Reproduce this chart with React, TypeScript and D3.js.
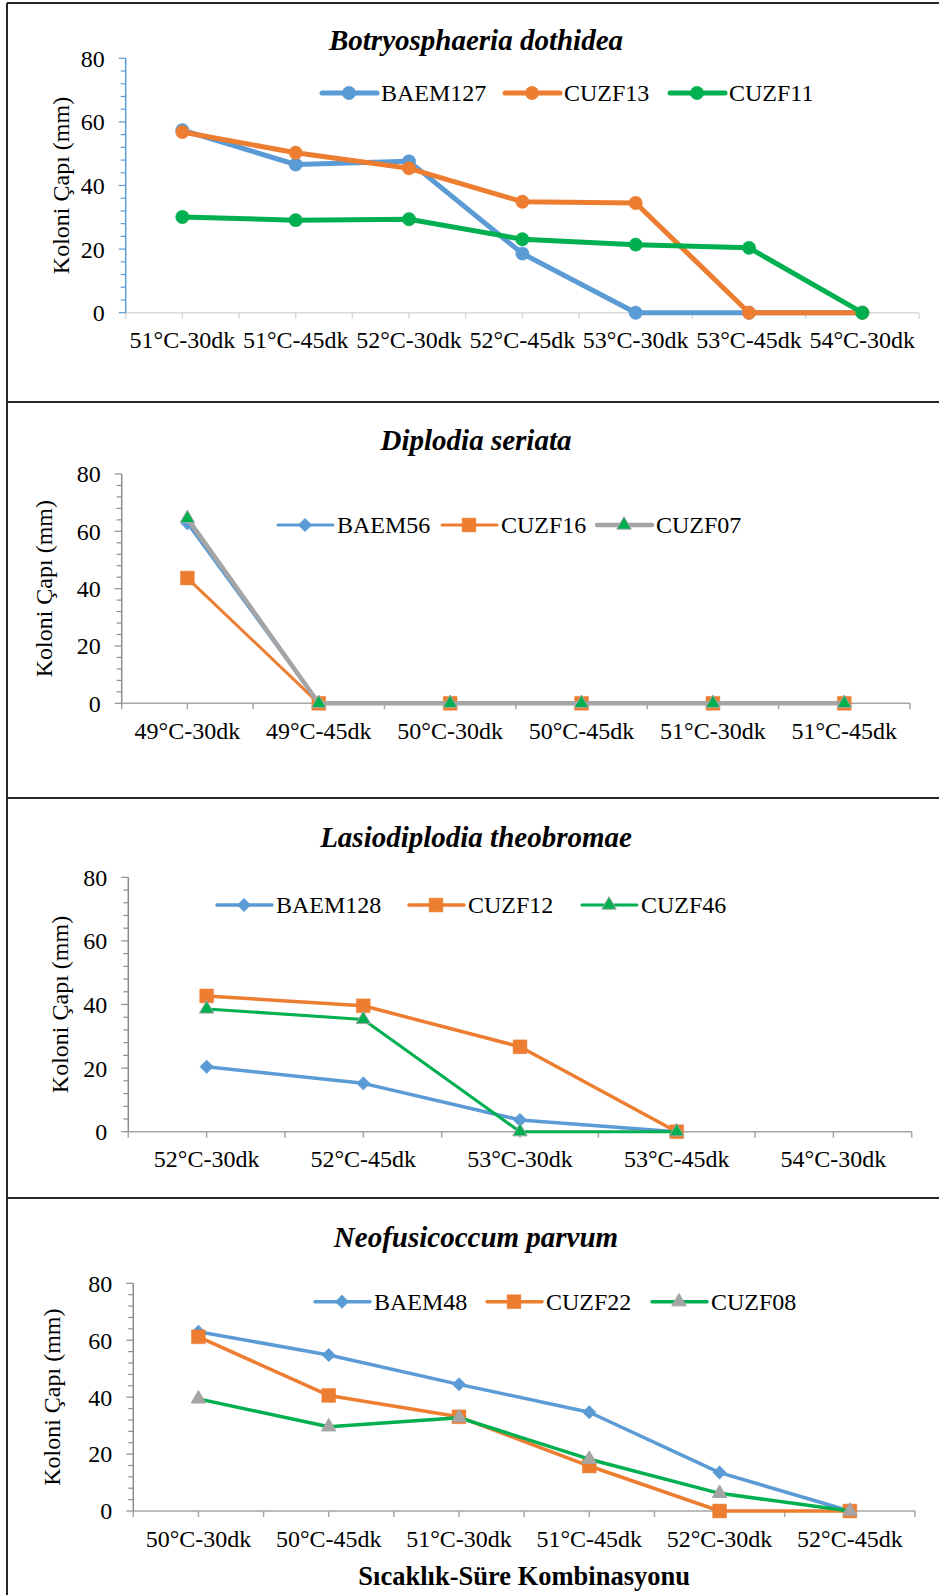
import React, { useEffect, useRef } from "react";
import * as d3 from "d3";

// ---- data ----
const catsBotryo = ["51°C-30dk", "51°C-45dk", "52°C-30dk", "52°C-45dk", "53°C-30dk", "53°C-45dk", "54°C-30dk"];
const baem127 = [57.4, 46.6, 47.6, 18.6, 0, 0, 0];
const cuzf13 = [56.8, 50.3, 45.4, 34.9, 34.5, 0, 0];
const cuzf11 = [30.1, 29.1, 29.4, 23.1, 21.4, 20.4, 0];

const catsDiplodia = ["49°C-30dk", "49°C-45dk", "50°C-30dk", "50°C-45dk", "51°C-30dk", "51°C-45dk"];
const baem56 = [62.8, 0, 0, 0, 0, 0];
const cuzf16 = [43.7, 0, 0, 0, 0, 0];
const cuzf07 = [64.5, 0, 0, 0, 0, 0];

const catsLasio = ["52°C-30dk", "52°C-45dk", "53°C-30dk", "53°C-45dk", "54°C-30dk"];
const baem128 = [20.4, 15.2, 3.7, 0, null];
const cuzf12 = [42.7, 39.6, 26.7, 0, null];
const cuzf46 = [38.6, 35.3, 0, 0, null];

const catsNeo = ["50°C-30dk", "50°C-45dk", "51°C-30dk", "51°C-45dk", "52°C-30dk", "52°C-45dk"];
const baem48 = [63.0, 54.8, 44.5, 34.7, 13.5, 0];
const cuzf22 = [61.2, 40.6, 33.1, 15.8, 0, 0];
const cuzf08 = [39.4, 29.6, 32.8, 18.2, 6.2, 0];

const yTicks = [0, 20, 40, 60, 80];
const yLabel = "Koloni Çapı (mm)";
const xTitle = "Sıcaklık-Süre Kombinasyonu";

const BLUE = "#5b9bd5";
const ORANGE = "#ed7d31";
const GREEN = "#00b050";
const GRAY = "#a5a5a5";
const FONT = '"Liberation Serif", "Times New Roman", serif';

const panels = [
  {
    title: "Botryosphaeria dothidea",
    cats: catsBotryo,
    series: [
      { name: "BAEM127", values: baem127, color: BLUE, marker: "circle", fill: BLUE, stroke: BLUE, width: 5 },
      { name: "CUZF13", values: cuzf13, color: ORANGE, marker: "circle", fill: ORANGE, stroke: ORANGE, width: 5 },
      { name: "CUZF11", values: cuzf11, color: GREEN, marker: "circle", fill: GREEN, stroke: GREEN, width: 5 },
    ],
    left: 125.7, right: 919, top: 58.3, bottom: 312.7,
    titleY: 50, legendY: 93, legendX: [322, 505, 670],
    labelY: 348, yLabelX: 69, yAxisColor: BLUE, xAxisColor: "#d9d9d9",
  },
  {
    title: "Diplodia seriata",
    cats: catsDiplodia,
    series: [
      { name: "BAEM56", values: baem56, color: BLUE, marker: "diamond", fill: BLUE, stroke: BLUE, width: 3 },
      { name: "CUZF16", values: cuzf16, color: ORANGE, marker: "square", fill: ORANGE, stroke: ORANGE, width: 3 },
      { name: "CUZF07", values: cuzf07, color: GRAY, marker: "triangle", fill: GREEN, stroke: GRAY, width: 4.5 },
    ],
    left: 121.7, right: 910, top: 474, bottom: 703.3,
    titleY: 450, legendY: 525, legendX: [278, 442, 597],
    labelY: 739, yLabelX: 52, yAxisColor: "#8c8c8c", xAxisColor: "#a6a6a6",
  },
  {
    title: "Lasiodiplodia theobromae",
    cats: catsLasio,
    series: [
      { name: "BAEM128", values: baem128, color: BLUE, marker: "diamond", fill: BLUE, stroke: BLUE, width: 3.5 },
      { name: "CUZF12", values: cuzf12, color: ORANGE, marker: "square", fill: ORANGE, stroke: ORANGE, width: 3.5 },
      { name: "CUZF46", values: cuzf46, color: GREEN, marker: "triangle", fill: GREEN, stroke: GRAY, width: 3 },
    ],
    left: 128.3, right: 911.7, top: 877.3, bottom: 1131.7,
    titleY: 846.7, legendY: 905, legendX: [217, 409, 582],
    labelY: 1166.7, yLabelX: 68, yAxisColor: "#8c8c8c", xAxisColor: "#a6a6a6",
  },
  {
    title: "Neofusicoccum parvum",
    cats: catsNeo,
    series: [
      { name: "BAEM48", values: baem48, color: BLUE, marker: "diamond", fill: BLUE, stroke: BLUE, width: 3.5 },
      { name: "CUZF22", values: cuzf22, color: ORANGE, marker: "square", fill: ORANGE, stroke: ORANGE, width: 3.5 },
      { name: "CUZF08", values: cuzf08, color: GREEN, marker: "triangle", fill: GRAY, stroke: GRAY, width: 3.5 },
    ],
    left: 133.3, right: 915, top: 1283.3, bottom: 1511,
    titleY: 1246.7, legendY: 1301.7, legendX: [315, 487, 652],
    labelY: 1547, yLabelX: 60, yAxisColor: "#8c8c8c", xAxisColor: "#a6a6a6",
    xTitleY: 1585,
  },
];

function markerPath(kind: string) {
  if (kind === "circle") return d3.symbol(d3.symbolCircle, 140)();
  if (kind === "square") return d3.symbol(d3.symbolSquare, 190)();
  if (kind === "diamond") return d3.symbol(d3.symbolSquare, 90)();
  return d3.symbol(d3.symbolTriangle, 90)();
}

function drawMarker(g: any, s: any, cx: number, cy: number) {
  g.append("path")
    .attr("d", markerPath(s.marker))
    .attr("transform", `translate(${cx},${cy})${s.marker === "diamond" ? " rotate(45)" : ""}`)
    .attr("fill", s.fill)
    .attr("stroke", s.stroke)
    .attr("stroke-width", s.marker === "triangle" ? 1 : 0.5);
}

export default function App() {
  const ref = useRef<SVGSVGElement>(null);

  useEffect(() => {
    const svg = d3.select(ref.current);
    svg.selectAll("*").remove();

    svg.append("rect").attr("width", 939).attr("height", 1595).attr("fill", "#fff");

    // frame lines
    const frame = svg.append("g").attr("stroke", "#262626").attr("stroke-width", 2);
    frame.append("line").attr("x1", 7).attr("x2", 7).attr("y1", 3).attr("y2", 1595);
    [3, 402, 798, 1198].forEach((yy) => {
      frame.append("line").attr("x1", 7).attr("x2", 939).attr("y1", yy).attr("y2", yy);
    });

    panels.forEach((p) => {
      const g = svg.append("g");
      const x = d3.scalePoint<string>().domain(p.cats).range([p.left, p.right]).padding(0.5);
      const y = d3.scaleLinear().domain([0, 80]).range([p.bottom, p.top]);
      const step = x.step();

      // title
      g.append("text")
        .attr("x", 476).attr("y", p.titleY)
        .attr("text-anchor", "middle")
        .attr("font-family", FONT).attr("font-size", 29)
        .attr("font-weight", "bold").attr("font-style", "italic")
        .text(p.title);

      // x axis
      g.append("line")
        .attr("x1", p.left).attr("x2", p.right)
        .attr("y1", p.bottom).attr("y2", p.bottom)
        .attr("stroke", p.xAxisColor).attr("stroke-width", 1.5);
      d3.range(p.cats.length * 2 + 1).forEach((i) => {
        const tx = p.left + (i * step) / 2;
        g.append("line")
          .attr("x1", tx).attr("x2", tx)
          .attr("y1", p.bottom).attr("y2", p.bottom + 6)
          .attr("stroke", p.xAxisColor).attr("stroke-width", 1.5);
      });
      g.selectAll(".xl")
        .data(p.cats)
        .join("text")
        .attr("x", (d) => x(d) as number)
        .attr("y", p.labelY)
        .attr("text-anchor", "middle")
        .attr("font-family", FONT).attr("font-size", 24)
        .attr("fill", "#000")
        .text((d) => d);

      // y axis
      g.append("line")
        .attr("x1", p.left).attr("x2", p.left)
        .attr("y1", p.top).attr("y2", p.bottom)
        .attr("stroke", p.yAxisColor).attr("stroke-width", 1.5);
      d3.range(0, 81, 4).forEach((v) => {
        const major = v % 20 === 0;
        g.append("line")
          .attr("x1", p.left - (major ? 7 : 5)).attr("x2", p.left)
          .attr("y1", y(v)).attr("y2", y(v))
          .attr("stroke", p.yAxisColor).attr("stroke-width", 1.2);
      });
      g.selectAll(".yl")
        .data(yTicks)
        .join("text")
        .attr("x", p.left - 21)
        .attr("y", (d) => y(d))
        .attr("dy", "0.35em")
        .attr("text-anchor", "end")
        .attr("font-family", FONT).attr("font-size", 24)
        .text((d) => d);

      g.append("text")
        .attr("transform", `translate(${p.yLabelX},${(p.top + p.bottom) / 2}) rotate(-90)`)
        .attr("text-anchor", "middle")
        .attr("font-family", FONT).attr("font-size", 24)
        .text(yLabel);

      // series: line then markers, one series at a time
      p.series.forEach((s) => {
        const line = d3.line<number | null>()
          .defined((d) => d != null)
          .x((_, i) => x(p.cats[i]) as number)
          .y((d) => y(d as number));
        g.append("path")
          .attr("d", line(s.values as (number | null)[]))
          .attr("fill", "none")
          .attr("stroke", s.color)
          .attr("stroke-width", s.width)
          .attr("stroke-linejoin", "round")
          .attr("stroke-linecap", "round");
        s.values.forEach((v, i) => {
          if (v == null) return;
          drawMarker(g, s, x(p.cats[i]) as number, y(v));
        });
      });

      // legend
      p.series.forEach((s, i) => {
        const lx = p.legendX[i];
        g.append("line")
          .attr("x1", lx).attr("x2", lx + 55)
          .attr("y1", p.legendY).attr("y2", p.legendY)
          .attr("stroke", s.color).attr("stroke-width", s.width)
          .attr("stroke-linecap", "round");
        drawMarker(g, s, lx + 27, p.legendY);
        g.append("text")
          .attr("x", lx + 59).attr("y", p.legendY)
          .attr("dy", "0.35em")
          .attr("font-family", FONT).attr("font-size", 24)
          .text(s.name);
      });

      if (p.xTitleY) {
        g.append("text")
          .attr("x", (p.left + p.right) / 2).attr("y", p.xTitleY)
          .attr("text-anchor", "middle")
          .attr("font-family", FONT).attr("font-size", 26.5)
          .attr("font-weight", "bold")
          .text(xTitle);
      }
    });
  }, []);

  return (
    <svg
      ref={ref}
      width={939}
      height={1595}
      style={{ position: "absolute", left: 0, top: 0, display: "block" }}
    />
  );
}
